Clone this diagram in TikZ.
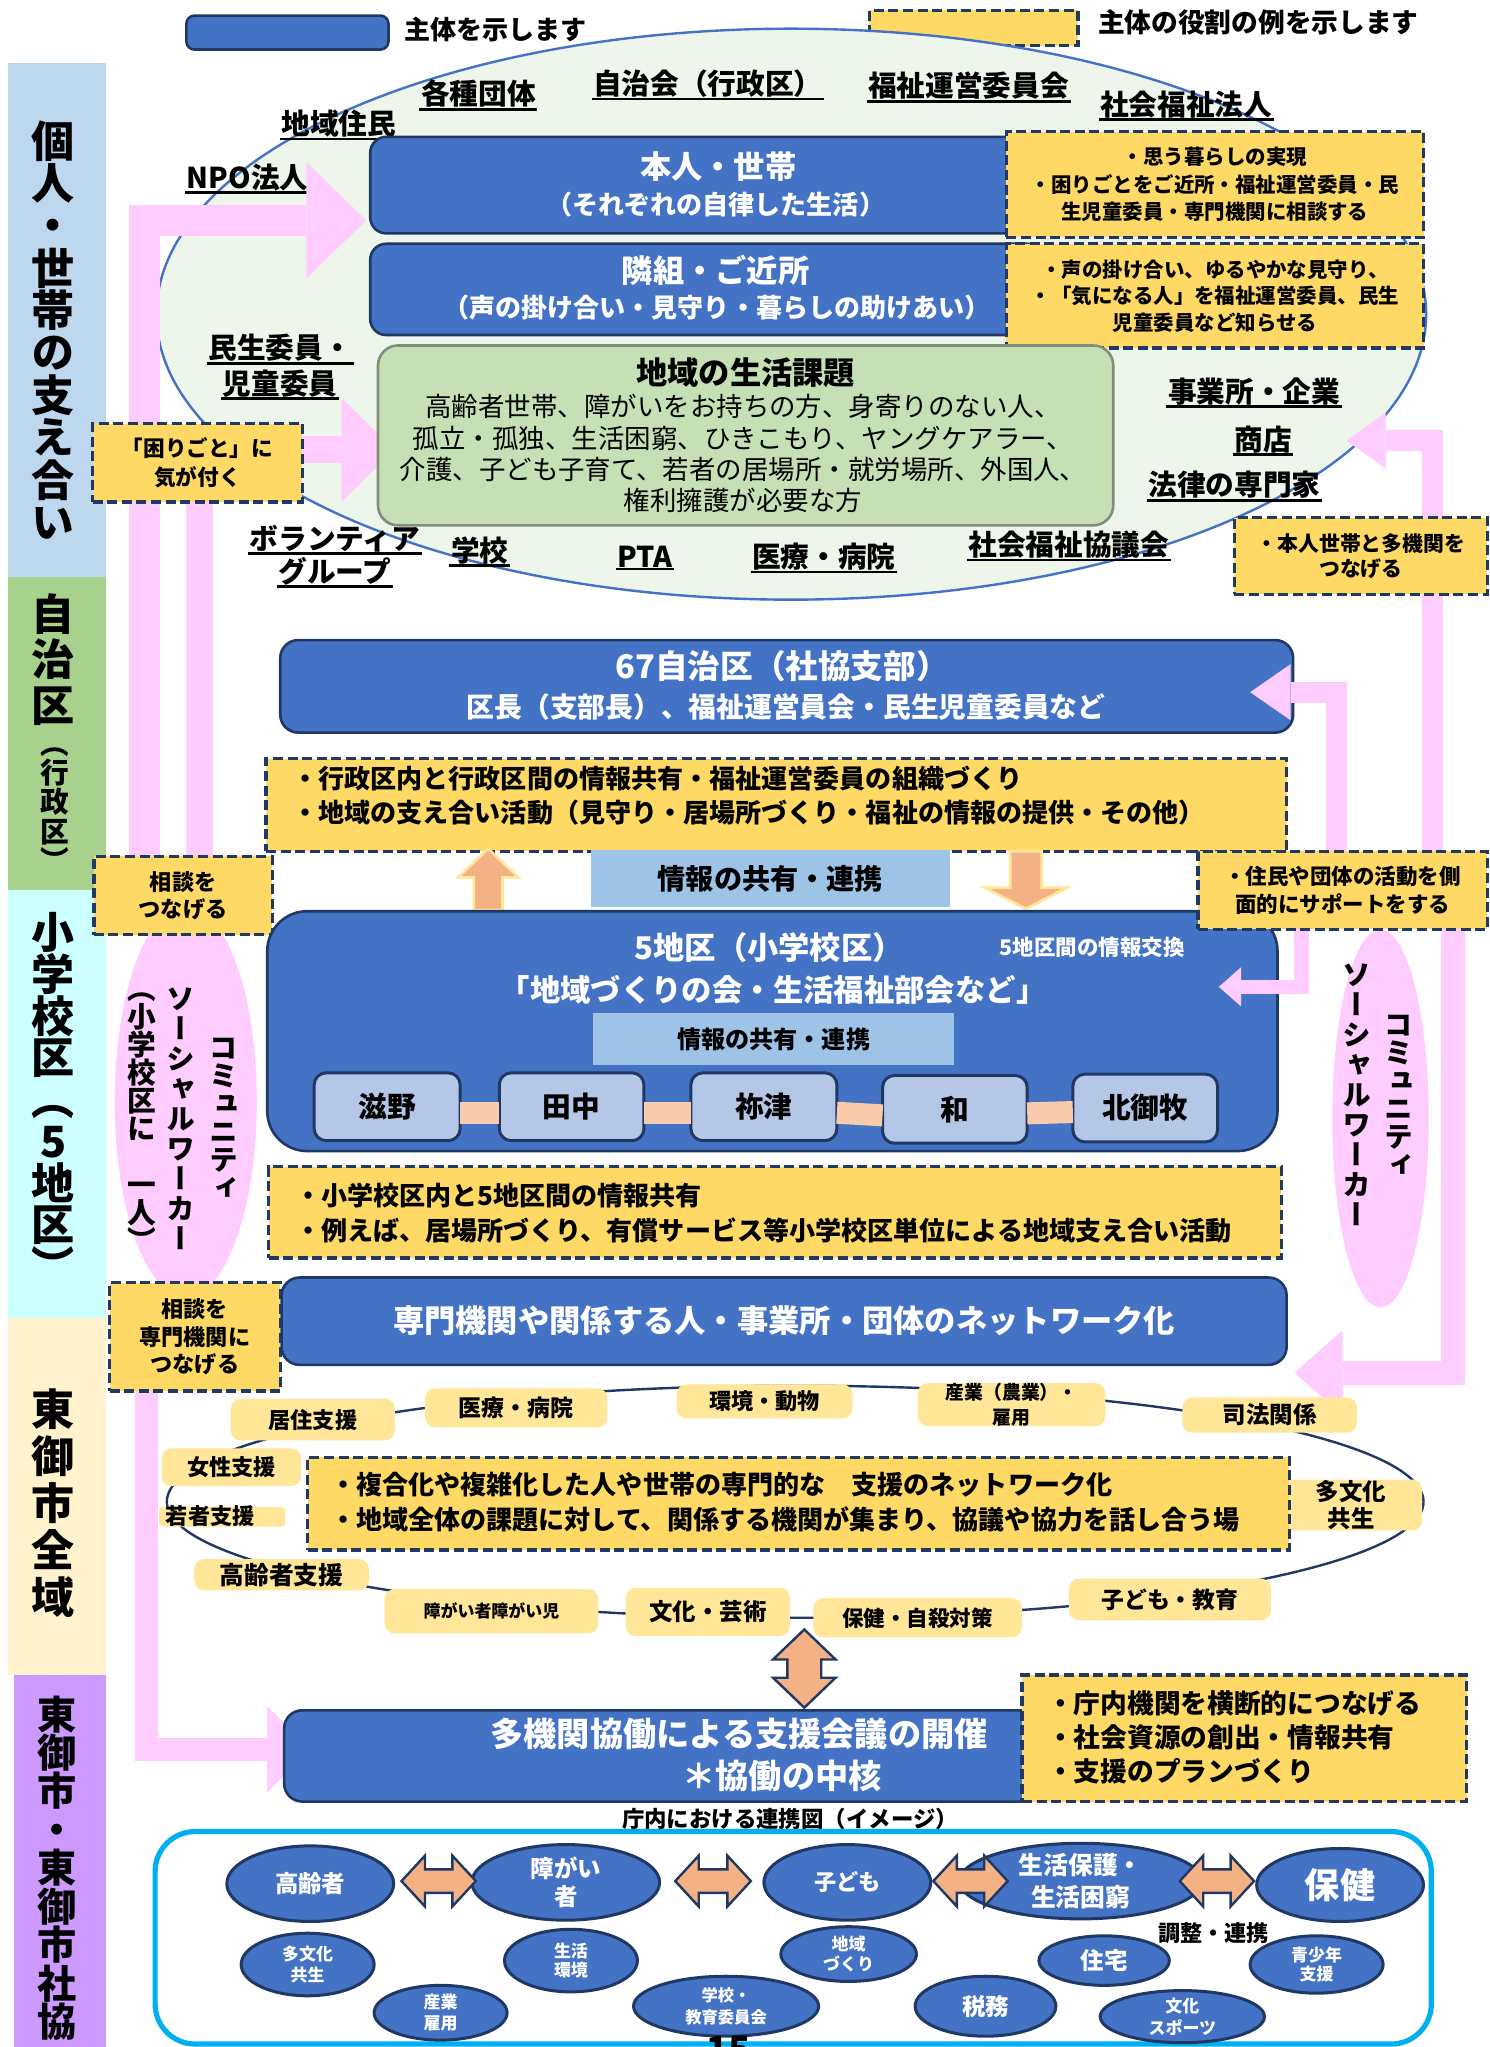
\documentclass[tikz,border=0pt]{standalone}
\usepackage{fontspec}
\setmainfont{Noto Sans CJK JP}
\newfontfamily\vfont{Noto Sans CJK JP}[RawFeature=+vert]
\usetikzlibrary{shapes.geometric,arrows.meta}
\newdimen\U \U=0.6518pt
\newcommand\fsz[2][1.2]{\fontsize{\fpeval{#2*0.6518}pt}{\fpeval{#2*0.6518*#1}pt}\selectfont}
\ExplSyntaxOn
\NewDocumentCommand\vstack{mm}{
  \vbox:n {
    \baselineskip=#1\relax
    \lineskiplimit=-\maxdimen
    \lineskip=0pt\relax
    \tl_map_inline:nn {#2} { \hbox_to_wd:nn {1.2em} { \hss ##1 \hss } }
  }
}
\ExplSyntaxOff
\definecolor{mblue}{HTML}{4472C4}
\definecolor{navy}{HTML}{1F3864}
\definecolor{yel}{HTML}{FFD966}
\definecolor{lyel}{HTML}{FFE699}
\definecolor{pinkc}{HTML}{FFCCFF}
\definecolor{egreen}{HTML}{EEF5EA}
\definecolor{gfill}{HTML}{C5E0B4}
\definecolor{gborder}{HTML}{7F8F7A}
\definecolor{lblue}{HTML}{9DC3E6}
\definecolor{dblue}{HTML}{B4C7E7}
\definecolor{peach}{HTML}{F8CBAD}
\definecolor{orc}{HTML}{F4B183}
\definecolor{cyanc}{HTML}{00B0F0}
\definecolor{band1}{HTML}{BDD7EE}
\definecolor{band2}{HTML}{A9D18E}
\definecolor{band3}{HTML}{CCFFFF}
\definecolor{band4}{HTML}{FFF2CC}
\definecolor{band5}{HTML}{CC99FF}
\newcommand\rbox[7]{\node[#2, minimum width={((#5)-(#3))*\U}, minimum height={((#6)-(#4))*\U}] (#1) at ({((#3)+(#5))/2},{((#4)+(#6))/2}) {#7};}
\newcommand\ov[8]{\node[oval, minimum width={#4*\U}, minimum height={#5*\U}] (#1) at (#2,#3) {};
  \node[ovt, font={\bfseries\fsz[#7]{#6}}] at (#1.center) {#8};}
\newcommand\hdarr[3]{\draw[orr] (#1,#3) -- ({#1+18},{#3-19.5}) -- ({#1+18},{#3-9}) -- ({#2-18},{#3-9}) -- ({#2-18},{#3-19.5}) -- (#2,#3) -- ({#2-18},{#3+19.5}) -- ({#2-18},{#3+9}) -- ({#1+18},{#3+9}) -- ({#1+18},{#3+19.5}) -- cycle;}
\begin{document}
\begin{tikzpicture}[x=0.6518pt,y=-0.6518pt,
  bx/.style={inner sep=0pt, outer sep=0pt},
  bluebox/.style={bx, draw=navy, line width=1.3pt, fill=mblue, rounded corners=8pt},
  yb/.style={bx, draw=navy, line width=1.7pt, dash pattern=on 5pt off 2.3pt, fill=yel, align=center},
  tx/.style={inner sep=0pt, align=center},
  wt/.style={tx, text=white},
  ul/.style={inner sep=0.6pt, append after command={(\tikzlastnode.south west) edge[draw=black, line width=1.3pt] (\tikzlastnode.south east)}},
  lab/.style={ul, font={\bfseries\fsz{22}}},
  lbl/.style={bx, fill=lyel, rounded corners=5pt},
  oval/.style={ellipse, draw=navy, line width=1.5pt, fill=mblue, inner sep=0pt},
  ovt/.style={tx, text=white},
  pk/.style={draw=pinkc, line join=miter},
  upar/.style={fill=orc, draw=lyel, line width=1.3pt, line join=miter},
  orr/.style={fill=orc, draw=navy, line width=1.2pt, line join=miter},
  dist/.style={bx, draw=navy, line width=1.5pt, fill=dblue, rounded corners=6pt, font={\bfseries\fsz{22}}},
]
\useasboundingbox (0,0) rectangle (1143,1570.3);
\fill[white] (0,0) rectangle (1143,1570.3);

% ---- left bands
\rbox{b1}{bx, fill=band1}{6}{48}{81}{443}{}
\rbox{b2}{bx, fill=band2}{6}{443}{81}{683}{}
\rbox{b3}{bx, fill=band3}{6}{683}{81}{1011}{}
\rbox{b4}{bx, fill=band4}{6}{1011}{81}{1285}{}
\rbox{b5}{bx, fill=band5}{11}{1285}{81}{1572}{}
\node[tx] (b1t) at (41,253) {\vfont\bfseries\fsz{33}\vstack{32.5\U}{個人・世帯の支え合い}};
\node[tx] (b2t) at (41,506) {\vfont\bfseries\fsz{33}\vstack{35\U}{自治区}};
\node[tx] (b2s) at (42,621) {\vfont\bfseries\fsz{22}\vstack{22.5\U}{（行政区）}};
\node[tx] (b3t) at (41,842) {\vfont\bfseries\fsz{33}\vstack{32\U}{小学校区（5地区）}};
\node[tx] (b4t) at (41,1153) {\vfont\bfseries\fsz{33}\vstack{36\U}{東御市全域}};
\node[tx] (b5t) at (44,1433) {\vfont\bfseries\fsz{30}\vstack{29.5\U}{東御市・東御市社協}};

% ---- legend
\rbox{legB}{bluebox, rounded corners=4pt}{143}{12}{298}{38}{}
\node[tx, anchor=west, font={\bfseries\fsz{20}}] (legBt) at (310,23) {主体を示します};
\rbox{legY}{yb}{667}{8}{827}{35}{}
\node[tx, anchor=west, font={\bfseries\fsz{20.5}}] (legYt) at (842,17) {主体の役割の例を示します};

% ---- community ellipse
\node[ellipse, draw=mblue, line width=1.2pt, fill=egreen, minimum width={974*\U}, minimum height={438*\U}, inner sep=0pt] (comm) at (607,241) {};
\node[lab] (l1) at (367,72) {各種団体};
\node[lab] (l2) at (543,64) {自治会（行政区）};
\node[lab] (l3) at (743,66) {福祉運営委員会};
\node[lab] (l4) at (910,80) {社会福祉法人};
\node[lab] (l5) at (260,95) {地域住民};
\node[lab] (l6) at (190,136) {NPO法人};
\node[lab] (l7a) at (215,267) {民生委員・};
\node[lab] (l7b) at (215,294) {児童委員};
\node[lab] (l8a) at (257,413) {ボランティア};
\node[lab] (l8b) at (257,438) {グループ};
\node[lab] (l9) at (368,422) {学校};
\node[lab] (l10) at (495,427) {PTA};
\node[lab] (l11) at (632,427) {医療・病院};
\node[lab] (l12) at (820,418) {社会福祉協議会};
\node[lab] (l13) at (962,300) {事業所・企業};
\node[lab] (l14) at (969,337) {商店};
\node[lab] (l15) at (947,372) {法律の専門家};

% ---- pink ellipses (community social workers)
\node[ellipse, fill=pinkc, minimum width={109*\U}, minimum height={300*\U}, inner sep=0pt] (cswL) at (142.5,845) {};
\node[ellipse, fill=pinkc, minimum width={74*\U}, minimum height={290*\U}, inner sep=0pt] (cswR) at (1059,858) {};
\node[tx] (cswL1) at (172,858) {\vfont\bfseries\fsz{22}\vstack{21.5\U}{コミュニティ}};
\node[tx] (cswL2) at (139,858) {\vfont\bfseries\fsz{22}\vstack{23\U}{ソーシャルワーカー}};
\node[tx] (cswL3) at (109,861) {\vfont\bfseries\fsz{22}\vstack{21.5\U}{（小学校区に{}一人）}};
\node[tx] (cswR1) at (1073,840) {\vfont\bfseries\fsz{22}\vstack{21.5\U}{コミュニティ}};
\node[tx] (cswR2) at (1041,840) {\vfont\bfseries\fsz{22}\vstack{23\U}{ソーシャルワーカー}};

% ---- pink connectors
\coordinate (pA0) at (111,690);   \coordinate (pA) at (281,169);
\coordinate (pB0) at (153,690);   \coordinate (pB) at (302,345);
\coordinate (pC0) at (112.5,1060);\coordinate (pC) at (238,1342);
\coordinate (pD0) at (1099,660);  \coordinate (pD) at (1033,338);
\coordinate (pE0) at (1025,660);  \coordinate (pE) at (959,531);
\coordinate (pF0) at (998.5,705); \coordinate (pF) at (935,757);
\coordinate (pG0) at (1114.5,705);\coordinate (pG) at (993,1053);
\draw[pk, line width=15.64pt, -{Triangle[length=29.98pt,width=58pt,line width=0pt]}] (pA0) |- (pA);
\draw[pk, line width=13.69pt, -{Triangle[length=26.07pt,width=52.14pt,line width=0pt]}] (pB0) |- (pB);
\draw[pk, line width=11.73pt, -{Triangle[length=21.51pt,width=43.02pt,line width=0pt]}] (pC0) |- (pC);
\draw[pk, line width=10.75pt, -{Triangle[length=19.55pt,width=28.03pt,line width=0pt]}] (pD0) |- (pD);
\draw[pk, line width=12.06pt, -{Triangle[length=24.12pt,width=42.37pt,line width=0pt]}] (pG0) |- (pG);

% ---- top boxes
\rbox{hon}{bluebox}{284}{105}{800}{179}{}
\node[wt, font={\bfseries\fsz{24}}] (hont1) at (551,128) {本人・世帯};
\node[wt, font={\bfseries\fsz{20}}] (hont2) at (549,157) {（それぞれの自律した生活）};
\rbox{tonari}{bluebox}{284}{187}{800}{257}{}
\node[wt, font={\bfseries\fsz{24}}] (tont1) at (549,207) {隣組・ご近所};
\node[wt, font={\bfseries\fsz{20}}] (tont2) at (550,236) {（声の掛け合い・見守り・暮らしの助けあい）};
\rbox{y1}{yb, font={\bfseries\fsz[1.34]{15.7}}}{772}{101}{1092}{182}{・思う暮らしの実現\\・困りごとをご近所・福祉運営委員・民\\生児童委員・専門機関に相談する}
\rbox{y2}{yb, font={\bfseries\fsz[1.3]{15.7}}}{772}{187}{1092}{267}{・声の掛け合い、ゆるやかな見守り、\\・「気になる人」を福祉運営委員、民生\\児童委員など知らせる}
\rbox{kadai}{bx, draw=gborder, line width=1.3pt, fill=gfill, rounded corners=10pt}{290}{265}{854}{403}{}
\node[tx, font={\bfseries\fsz{24}}] (kadait) at (572,286) {地域の生活課題};
\node[tx, font={\fsz[1.18]{20.3}}] (kadaib) at (570,348) {高齢者世帯、障がいをお持ちの方、身寄りのない人、\\孤立・孤独、生活困窮、ひきこもり、ヤングケアラー、\\介護、子ども子育て、若者の居場所・就労場所、外国人、\\権利擁護が必要な方};
\rbox{komari}{yb, font={\bfseries\fsz[1.38]{16.6}}}{71}{325}{232}{385}{「困りごと」に\\気が付く}
\rbox{yhon}{yb, font={\bfseries\fsz[1.22]{16}}}{947}{397}{1141}{456}{・本人世帯と多機関を\\つなげる}

% ---- 67 districts
\rbox{jichi}{bluebox, rounded corners=9pt}{215}{491}{992}{562}{}
\node[wt, font={\bfseries\fsz{25}}] (jichit1) at (600,511) {67自治区（社協支部）};
\node[wt, font={\bfseries\fsz{21.3}}] (jichit2) at (603,542) {区長（支部長）、福祉運営員会・民生児童委員など};
\rbox{yj}{yb}{204}{582}{987}{653}{}
\node[tx, anchor=west, align=left, font={\bfseries\fsz[1.3]{20}}] (yjt) at (224,610) {・行政区内と行政区間の情報共有・福祉運営委員の組織づくり\\・地域の支え合い活動（見守り・居場所づくり・福祉の情報の提供・その他）};
\rbox{soudan1}{yb, font={\bfseries\fsz[1.24]{17}}}{72}{657}{209}{717}{相談を\\つなげる}
\draw[upar] (363.5,698) -- (363.5,673) -- (351.5,673) -- (374.5,651) -- (397.5,673) -- (385.5,673) -- (385.5,698) -- cycle;
\draw[upar] (775,653) -- (799,653) -- (799,681) -- (818.5,681) -- (787,697) -- (755.5,681) -- (775,681) -- cycle;
\rbox{jk1}{bx, fill=lblue, font={\bfseries\fsz{21.6}}}{453}{652}{729}{696}{情報の共有・連携}

% ---- 5 districts
\rbox{go}{bluebox, rounded corners=20pt}{205}{699}{980}{883}{}
\node[wt, font={\bfseries\fsz{24}}] (got1) at (590,727) {5地区（小学校区）};
\node[wt, font={\bfseries\fsz{16.5}}] (got3) at (838,727) {5地区間の情報交換};
\node[wt, font={\bfseries\fsz{23.3}}] (got2) at (593,759) {「地域づくりの会・生活福祉部会など」};
\rbox{jk2}{bx, fill=lblue, font={\bfseries\fsz{18.5}}}{455}{777}{732}{817}{情報の共有・連携}
\rbox{d1}{dist}{241}{823}{353}{875}{滋野}
\rbox{d2}{dist}{383}{823}{494}{875}{田中}
\rbox{d3}{dist}{530}{823}{642}{875}{祢津}
\rbox{d4}{dist}{677}{825}{788}{877}{和}
\rbox{d5}{dist}{823}{824}{934}{876}{北御牧}
\draw[peach, line width=11pt] ([yshift=-3pt]d1.east) -- ([yshift=-3pt]d2.west);
\draw[peach, line width=11pt] ([yshift=-3pt]d2.east) -- ([yshift=-3pt]d3.west);
\draw[peach, line width=11pt] ([yshift=-3pt]d3.east) -- ([yshift=-3pt]d4.west);
\draw[peach, line width=11pt] ([yshift=-2pt]d4.east) -- ([yshift=-2pt]d5.west);
% pink arrows that overlap the district boxes
\draw[pk, line width=10.43pt, -{Triangle[length=20.2pt,width=28.03pt,line width=0pt]}] (pE0) |- (pE);
\draw[pk, line width=7.17pt, -{Triangle[length=11.08pt,width=19.55pt,line width=0pt]}] (pF0) |- (pF);
\rbox{yjumin}{yb, font={\bfseries\fsz[1.27]{16.5}}}{919}{653}{1141}{713}{・住民や団体の活動を側\\面的にサポートをする}
\rbox{ys}{yb}{206}{895}{983}{965}{}
\node[tx, anchor=west, align=left, font={\bfseries\fsz[1.35]{20}}] (yst) at (226,930.5) {・小学校区内と5地区間の情報共有\\・例えば、居場所づくり、有償サービス等小学校区単位による地域支え合い活動};
\rbox{soudan2}{yb, font={\bfseries\fsz[1.24]{17}}}{84}{984}{215}{1067}{相談を\\専門機関に\\つなげる}

% ---- city-wide network
\rbox{senmon}{bluebox, rounded corners=9pt, text=white, font={\bfseries\fsz{24}}}{216}{980}{987}{1047}{専門機関や関係する人・事業所・団体のネットワーク化}
\node[ellipse, draw=navy, line width=1.2pt, minimum width={964*\U}, minimum height={178*\U}, inner sep=0pt] (net) at (610,1152) {};
\rbox{n1}{lbl, font={\bfseries\fsz{17}}}{177}{1073}{303}{1105}{居住支援}
\rbox{n2}{lbl, font={\bfseries\fsz{17.6}}}{326}{1065}{466}{1095}{医療・病院}
\rbox{n3}{lbl, font={\bfseries\fsz{17}}}{519}{1062}{654}{1088}{環境・動物}
\rbox{n4}{lbl, align=center, font={\bfseries\fsz[1.3]{14.5}}}{704}{1062}{848}{1093}{産業（農業）・\\雇用}
\rbox{n5}{lbl, font={\bfseries\fsz{18}}}{907}{1072}{1041}{1099}{司法関係}
\rbox{n6}{lbl, font={\bfseries\fsz{17}}}{124}{1111}{231}{1140}{女性支援}
\rbox{n7}{lbl, rounded corners=2pt}{122}{1156}{219}{1171}{}
\node[tx, anchor=west, font={\bfseries\fsz{17}}] (n7t) at (127,1163) {若者支援};
\rbox{n8}{lbl, font={\bfseries\fsz{19}}}{149}{1196}{283}{1220}{高齢者支援}
\rbox{n9}{lbl, font={\bfseries\fsz{13}}}{295}{1219}{459}{1253}{障がい者障がい児}
\rbox{n10}{lbl, font={\bfseries\fsz{18}}}{480}{1218}{606}{1255}{文化・芸術}
\rbox{n11}{lbl, font={\bfseries\fsz{16.5}}}{624}{1226}{784}{1256}{保健・自殺対策}
\rbox{n12}{lbl, font={\bfseries\fsz{17.5}}}{820}{1211}{975}{1243}{子ども・教育}
\rbox{n13}{lbl, align=center, font={\bfseries\fsz[1.15]{18}}}{982}{1135}{1091}{1174}{多文化\\共生}
\rbox{yn}{yb}{236}{1118}{989}{1189}{}
\node[tx, anchor=west, align=left, font={\bfseries\fsz[1.35]{20}}] (ynt) at (253,1152.5) {・複合化や複雑化した人や世帯の専門的な　支援のネットワーク化\\・地域全体の課題に対して、関係する機関が集まり、協議や協力を話し合う場};
\draw[orr] (617,1250) -- (641,1273) -- (630,1273) -- (630,1287) -- (641,1287) -- (617,1310) -- (593,1287) -- (604,1287) -- (604,1273) -- (593,1273) -- cycle;

% ---- multi-agency meeting
\rbox{tak}{bluebox, rounded corners=9pt}{218}{1312}{800}{1382}{}
\node[wt, font={\bfseries\fsz{25.5}}] (takt1) at (567,1330) {多機関協働による支援会議の開催};
\node[wt, font={\bfseries\fsz{25.5}}] (takt2) at (600,1362) {＊協働の中核};
\rbox{yt}{yb}{784}{1285}{1125}{1382}{}
\node[tx, anchor=west, align=left, font={\bfseries\fsz[1.27]{20.5}}] (ytt) at (803,1333) {・庁内機関を横断的につなげる\\・社会資源の創出・情報共有\\・支援のプランづくり};
\node[tx, font={\bfseries\fsz{17.2}}] (cap) at (606,1395) {庁内における連携図（イメージ）};

% ---- internal cooperation map
\rbox{frame}{bx, draw=cyanc, line width=2.6pt, rounded corners=20pt}{119}{1405}{1098}{1568}{}
\ov{o1}{238}{1445}{128}{58}{18}{1.2}{高齢者}
\ov{o2}{434}{1444}{144}{58}{18}{1.17}{障がい\\者}
\ov{o3}{650}{1444}{128}{58}{17}{1.2}{子ども}
\ov{o4}{829}{1443}{186}{58}{19}{1.26}{生活保護・\\生活困窮}
\ov{o5}{1028}{1446}{128}{56}{27}{1.2}{保健}
\ov{o6}{236}{1507}{102}{48}{13}{1.23}{多文化\\共生}
\ov{o7}{438}{1504}{102}{48}{13}{1.15}{生活\\環境}
\ov{o8}{338}{1544}{102}{42}{13}{1.23}{産業\\雇用}
\ov{o9}{557}{1539}{142}{46}{12.5}{1.36}{学校・\\教育委員会}
\ov{o10}{651}{1499}{104}{42}{13}{1.15}{地域\\づくり}
\ov{o11}{756}{1539}{108}{46}{18}{1.2}{税務}
\ov{o12}{847}{1504}{100}{38}{18}{1.2}{住宅}
\ov{o13}{907}{1547}{126}{40}{13}{1.3}{文化\\スポーツ}
\ov{o14}{1010}{1507}{102}{44}{13}{1.15}{青少年\\支援}
\hdarr{308}{365}{1443}
\hdarr{518}{576}{1443}
\hdarr{716}{773}{1443}
\hdarr{905}{962}{1443}
\node[tx, font={\bfseries\fsz{17}}] (chosei) at (931,1483) {調整・連携};
\node[tx, font={\bfseries\fsz{28}}] (pgno) at (559,1572) {15};
\end{tikzpicture}
\end{document}
